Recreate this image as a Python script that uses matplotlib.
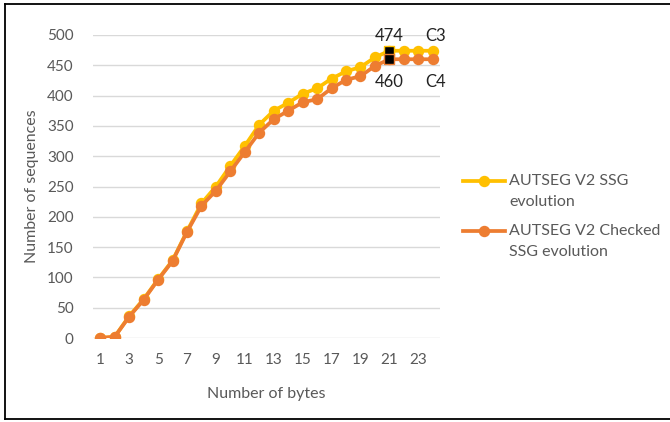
import matplotlib
matplotlib.use("Agg")
import matplotlib.pyplot as plt
from matplotlib.lines import Line2D

plt.rcParams['font.family'] = ['Lato', 'DejaVu Sans']

# data
n_bytes = list(range(1, 25))
ssg = [0, 2, 36, 64, 97, 128, 176, 222, 250, 284, 317, 352, 375, 388,
       403, 412, 428, 440, 447, 463, 474, 474, 474, 474]
checked_ssg = [0, 2, 35, 63, 96, 127, 175, 218, 243, 275, 307, 339, 361, 375,
               389, 394, 412, 426, 432, 449, 460, 460, 460, 460]
xtick_labels = list(range(1, 24, 2))
yticks = list(range(0, 501, 50))

yellow = '#FFC000'
orange = '#ED7D31'
grey = '#595959'

fig = plt.figure(figsize=(6.7, 4.22), dpi=100)
ax = fig.add_axes([93 / 670, 1 - 338 / 422, 347 / 670, 303 / 422])

ax.plot(n_bytes, ssg, color=yellow, lw=2.7, marker='o', ms=7.2, zorder=3)
ax.plot(n_bytes, checked_ssg, color=orange, lw=2.7, marker='o', ms=7.2, zorder=4)

# highlighted points at 21 bytes
i = n_bytes.index(21)
ax.plot(n_bytes[i], ssg[i], marker='s', ms=7, color='black', mec=yellow, mew=1, zorder=5)
ax.plot(n_bytes[i], checked_ssg[i], marker='s', ms=7, color='black', mec=orange, mew=1, zorder=6)
ax.text(n_bytes[i], ssg[i] + 11, str(ssg[i]), ha='center', va='bottom', fontsize=12, color='#222222')
ax.text(n_bytes[i], checked_ssg[i] - 25, str(checked_ssg[i]), ha='center', va='top', fontsize=12, color='#222222')
ax.text(n_bytes[-1] + 0.2, ssg[-1] + 11, 'C3', ha='center', va='bottom', fontsize=12, color='#222222')
ax.text(n_bytes[-1] + 0.2, checked_ssg[-1] - 25, 'C4', ha='center', va='top', fontsize=12, color='#222222')

ax.set_xlim(0.5, 24.5)
ax.set_ylim(0, 500)
ax.set_xticks(xtick_labels)
ax.set_yticks(yticks)
ax.tick_params(length=0, colors=grey, labelsize=11)
ax.tick_params(axis='x', pad=11)
ax.tick_params(axis='y', pad=14)
ax.grid(axis='y', color='#d9d9d9', lw=1)
ax.set_axisbelow(True)
for s in ax.spines.values():
    s.set_visible(False)

ax.set_xlabel('Number of bytes', fontsize=11.5, color=grey, labelpad=14)
ax.set_ylabel('Number of sequences', fontsize=11.5, color=grey, labelpad=6)

# legend drawn like the Excel one
for y0, col, lines in [(181, yellow, ['AUTSEG V2 SSG', 'evolution']),
                       (231, orange, ['AUTSEG V2 Checked', 'SSG evolution'])]:
    yf = 1 - y0 / 422
    fig.add_artist(Line2D([463 / 670, 505 / 670], [yf, yf], color=col, lw=2.7))
    fig.add_artist(Line2D([484 / 670], [yf], color=col, marker='o', ms=7.2))
    for k, t in enumerate(lines):
        fig.text(509 / 670, 1 - (y0 + 21 * k) / 422, t, fontsize=11.5, color=grey, va='center')

# outer border (left, top, bottom)
for xs, ys in [([5, 5], [4, 419]), ([5, 670], [4, 4]), ([5, 670], [419, 419])]:
    fig.add_artist(Line2D([x / 670 for x in xs], [1 - y / 422 for y in ys], color='black', lw=1.3))

fig.savefig('out.png', dpi=100)
